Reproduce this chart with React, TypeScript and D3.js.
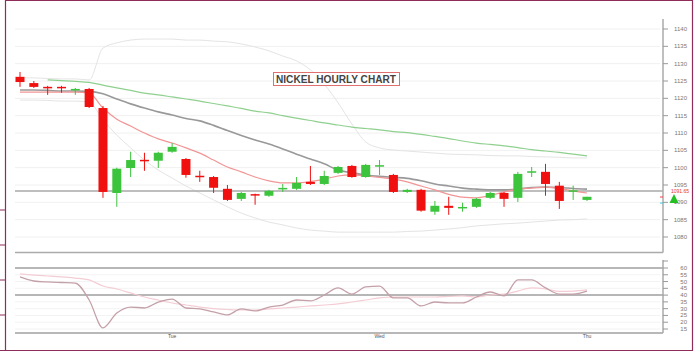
import React from "react";
import * as d3 from "d3";

// ---- Data ----
const opens = [1126.2,1124.4,1123.3,1123.3,1122.4,1122.7,1117.2,1092.7,1099.9,1102.2,1102.0,1104.6,1102.5,1097.6,1097.3,1093.9,1091.0,1092.3,1091.9,1093.8,1093.9,1095.9,1095.3,1098.5,1100.5,1097.3,1100.4,1097.9,1093.0,1093.6,1087.3,1089.0,1088.3,1088.7,1091.3,1092.7,1091.3,1098.6,1098.8,1094.8,1093.1,1090.7];
const highs = [1127.6,1125.0,1123.6,1123.6,1123.0,1123.0,1117.8,1100.0,1104.6,1104.3,1104.6,1107.1,1102.8,1099.1,1097.6,1095.0,1093.0,1092.5,1093.6,1095.3,1097.3,1100.5,1099.1,1100.5,1100.8,1101.1,1102.2,1098.2,1093.9,1093.9,1090.4,1091.6,1089.9,1091.3,1093.0,1093.0,1098.8,1100.2,1101.1,1095.9,1094.8,1091.6];
const lows = [1123.3,1123.0,1121.0,1121.6,1121.0,1117.2,1091.3,1088.7,1097.3,1099.1,1099.9,1104.3,1097.1,1095.9,1092.7,1090.4,1090.4,1089.3,1091.6,1093.0,1093.6,1095.0,1095.0,1098.2,1097.1,1097.1,1097.9,1092.7,1092.7,1087.3,1086.4,1086.4,1087.3,1088.4,1091.0,1088.7,1090.1,1097.3,1091.9,1088.1,1090.7,1090.4];
const closes = [1124.7,1123.3,1122.9,1122.9,1122.6,1117.5,1093.0,1099.7,1102.2,1101.9,1104.3,1106.0,1097.9,1097.3,1094.2,1090.7,1092.7,1092.0,1093.3,1094.1,1095.6,1095.3,1097.6,1100.2,1097.3,1100.8,1100.6,1093.0,1093.6,1087.6,1089.0,1088.4,1088.6,1091.0,1092.7,1091.0,1098.2,1098.9,1095.3,1090.4,1093.4,1091.6];

const slowMAStart = 2;
const slowMA = [1125.3,1125.1,1124.9,1124.6,1123.8,1123.0,1122.3,1121.5,1121.0,1120.4,1119.8,1119.2,1118.5,1117.8,1117.1,1116.3,1115.8,1115.0,1114.3,1113.6,1112.9,1112.3,1111.7,1111.3,1110.9,1110.4,1110.1,1109.6,1109.0,1108.4,1107.7,1107.1,1106.7,1106.3,1105.8,1105.2,1104.8,1104.4,1103.9,1103.4];
const midMA = [1122.4,1122.4,1122.3,1122.1,1122.1,1122.0,1121.3,1119.8,1118.4,1117.2,1116.1,1115.2,1114.2,1113.5,1112.2,1110.7,1109.3,1108.0,1106.8,1105.4,1103.9,1102.5,1101.1,1099.3,1098.5,1097.9,1097.5,1097.2,1096.9,1096.2,1095.3,1094.7,1094.1,1093.8,1093.6,1093.6,1093.8,1094.3,1094.4,1094.3,1094.0,1093.8];
const fastMA = [1121.8,1121.8,1121.8,1121.8,1121.8,1121.5,1117.2,1114.0,1112.0,1110.0,1108.3,1107.1,1105.7,1104.2,1102.2,1100.2,1098.8,1097.3,1096.2,1095.6,1095.6,1096.0,1096.7,1097.6,1097.9,1097.6,1097.2,1096.7,1095.9,1094.7,1093.6,1092.3,1091.5,1091.3,1092.0,1093.0,1093.8,1094.1,1094.4,1094.0,1093.3,1092.7];
const upperBand = [1125.9,1125.9,1125.7,1125.6,1125.6,1125.3,1134.5,1136.0,1136.8,1137.1,1137.1,1137.1,1136.8,1136.8,1136.5,1136.3,1135.7,1134.8,1133.7,1132.2,1130.8,1128.2,1124.1,1118.7,1112.6,1107.4,1105.7,1105.1,1104.8,1104.5,1104.2,1103.9,1103.8,1103.7,1103.5,1103.4,1103.4,1103.2,1103.1,1103.0,1102.8,1102.8];
const lowerBand = [1119.5,1119.5,1119.4,1119.2,1119.2,1118.9,1113.8,1109.4,1105.7,1102.2,1099.3,1097.0,1094.7,1092.7,1090.7,1088.7,1086.9,1085.5,1084.3,1083.5,1082.6,1082.0,1081.7,1081.4,1081.4,1081.4,1081.4,1081.4,1081.6,1081.7,1082.0,1082.3,1082.7,1083.2,1083.5,1083.8,1084.0,1084.3,1084.6,1084.9,1085.0,1085.2];
const supportLevel = 1093.3;
const lastPriceLabel = "1091.65";

const rsi = [53.4,50.4,49.7,49.3,48.9,36.4,15.8,26.8,31.2,30.5,34.9,37.1,30.5,29.8,27.6,25.4,29.8,28.3,31.2,32.7,36.4,35.7,40.1,45.3,40.8,46.0,46.7,37.9,37.9,32.0,34.9,34.2,34.2,38.6,42.3,39.4,51.2,51.2,45.3,40.8,40.8,43.0];
const rsiSignal = [55.6,54.8,54.1,53.4,52.6,51.2,46.7,44.5,41.6,38.6,36.4,34.2,32.7,31.2,30.1,29.4,29.0,29.0,29.8,30.5,31.2,32.0,32.7,33.5,34.9,36.4,37.9,38.6,38.6,38.6,38.6,39.0,39.4,38.6,40.1,40.8,43.0,45.3,44.5,42.7,43.0,43.8];
const rsiLevels = [60, 40];

const priceTicks = [1140,1135,1130,1125,1120,1115,1110,1105,1100,1095,1090,1085,1080];
const rsiTicks = [60,55,50,45,40,35,30,25,20,15];
const timeLabels = [{ i: 11, t: "Tue" }, { i: 26, t: "Wed" }, { i: 41, t: "Thu" }];
const title = "NICKEL HOURLY CHART";

export default function App() {
  const W = 699, H = 357;
  const left = 15, axisX = 663;
  const x = d3.scaleLinear().domain([0, opens.length - 1]).range([20, 587]);
  const y = d3.scaleLinear().domain([1080, 1140]).range([237, 29]);
  const yr = d3.scaleLinear().domain([15, 60]).range([329, 268]);

  const priceLine = (arr: number[], start = 0) =>
    d3.line<number>().x((_, i) => x(i + start)).y((d) => y(d)).curve(d3.curveMonotoneX)(arr) || "";
  const rsiLine = (arr: number[]) =>
    d3.line<number>().x((_, i) => x(i)).y((d) => yr(d)).curve(d3.curveMonotoneX)(arr) || "";

  const red = "#f01010", green = "#3cc43c";
  const frame = "#8e2c5a";
  const bw = 9;

  return (
    <svg width={W} height={H} style={{ position: "absolute", left: 0, top: 0, background: "#fff" }}
      fontFamily="Liberation Sans, Arial, sans-serif">
      <rect x={0} y={0} width={W} height={H} fill="#fff" />
      {/* frame */}
      <line x1={5.5} y1={0} x2={5.5} y2={351} stroke={frame} strokeWidth={1.2} />
      <line x1={5} y1={0.5} x2={692.5} y2={0.5} stroke={frame} strokeWidth={1.2} />
      <line x1={692.5} y1={0} x2={692.5} y2={351} stroke={frame} strokeWidth={1.2} />
      <line x1={0} y1={350.5} x2={693} y2={350.5} stroke={frame} strokeWidth={1.2} />
      {[210, 245, 280, 315].map((v) => (
        <line key={v} x1={0} y1={v} x2={5.5} y2={v} stroke={frame} strokeWidth={1} />
      ))}

      {/* main grid */}
      {priceTicks.map((t) => (
        <line key={t} x1={left} x2={axisX - 3} y1={y(t)} y2={y(t)} stroke="#f0f0f0" strokeWidth={1} />
      ))}
      {/* bollinger bands */}
      <path d={priceLine(upperBand)} fill="none" stroke="#e4e4e4" strokeWidth={1} />
      <path d={priceLine(lowerBand)} fill="none" stroke="#e4e4e4" strokeWidth={1} />
      {/* support level */}
      <line x1={left} x2={axisX} y1={y(supportLevel)} y2={y(supportLevel)} stroke="#a8a8a8" strokeWidth={1.5} />
      {/* moving averages */}
      <path d={priceLine(slowMA, slowMAStart)} fill="none" stroke="#8fd08f" strokeWidth={1.2} />
      <path d={priceLine(midMA)} fill="none" stroke="#999" strokeWidth={1.6} />
      <path d={priceLine(fastMA)} fill="none" stroke="#f29595" strokeWidth={1.2} />

      {/* candles */}
      {opens.map((o, i) => {
        const c = closes[i];
        const up = c >= o;
        const col = up ? green : red;
        const top = y(Math.max(o, c));
        const bot = y(Math.min(o, c));
        const h = Math.max(1.5, bot - top);
        return (
          <g key={i}>
            <line x1={x(i)} x2={x(i)} y1={y(highs[i])} y2={y(lows[i])} stroke={col} strokeWidth={1} />
            <rect x={x(i) - bw / 2} y={h === 1.5 ? (top + bot) / 2 - 0.75 : top} width={bw} height={h} fill={col} />
          </g>
        );
      })}

      {/* title */}
      <rect x={273.5} y={72.5} width={126} height={13} fill="#fff" stroke="#e07070" strokeWidth={1} />
      <text x={276} y={83} fontSize={10} fontWeight="bold" fill="#444" textLength={120} lengthAdjust="spacingAndGlyphs">{title}</text>

      {/* main axis */}
      <line x1={left} x2={axisX} y1={252.5} y2={252.5} stroke="#aaa" strokeWidth={1.5} />
      <line x1={axisX} x2={axisX} y1={19} y2={252.5} stroke="#aaa" strokeWidth={1.5} />
      {priceTicks.map((t) => (
        <g key={t}>
          <line x1={axisX} x2={axisX + 5} y1={y(t)} y2={y(t)} stroke="#999" strokeWidth={1} />
          <text x={687} y={y(t) + 2} fontSize={6} fill="#777" textAnchor="end">{t}</text>
        </g>
      ))}
      {/* last price marker */}
      <line x1={axisX - 3} x2={axisX} y1={197} y2={197} stroke="#f04040" strokeWidth={1} />
      <line x1={axisX - 3} x2={axisX} y1={203} y2={203} stroke="#40c0d0" strokeWidth={1} />
      <text x={689} y={192.5} fontSize={5} fill="#e83030" textAnchor="end">{lastPriceLabel}</text>
      <path d={`M${674},${194} L${678.5},${203} L${669.5},${203} Z`} fill="#22c022" />

      {/* indicator panel */}
      {rsiTicks.map((t) => (
        <line key={t} x1={left} x2={axisX - 3} y1={yr(t)} y2={yr(t)} stroke="#f3f3f3" strokeWidth={1} />
      ))}
      {rsiLevels.map((l) => (
        <line key={l} x1={left} x2={axisX} y1={yr(l)} y2={yr(l)} stroke="#a0a0a0" strokeWidth={1.5} />
      ))}
      <line x1={left} x2={axisX} y1={333} y2={333} stroke="#a0a0a0" strokeWidth={1.5} />
      <path d={rsiLine(rsiSignal)} fill="none" stroke="#f4cdd4" strokeWidth={1.2} />
      <path d={rsiLine(rsi)} fill="none" stroke="#c4a0a8" strokeWidth={1.3} />
      <line x1={axisX} x2={axisX} y1={260} y2={333} stroke="#aaa" strokeWidth={1.5} />
      <line x1={axisX} x2={axisX + 5} y1={261} y2={261} stroke="#999" strokeWidth={1} />
      {rsiTicks.map((t) => (
        <g key={t}>
          <line x1={axisX} x2={axisX + 5} y1={yr(t)} y2={yr(t)} stroke="#999" strokeWidth={1} />
          <text x={687} y={yr(t) + 2} fontSize={6} fill="#777" textAnchor="end">{t}</text>
        </g>
      ))}
      {timeLabels.map((l) => (
        <text key={l.t} x={x(l.i)} y={338} fontSize={5} fill="#555" textAnchor="middle">{l.t}</text>
      ))}
    </svg>
  );
}
